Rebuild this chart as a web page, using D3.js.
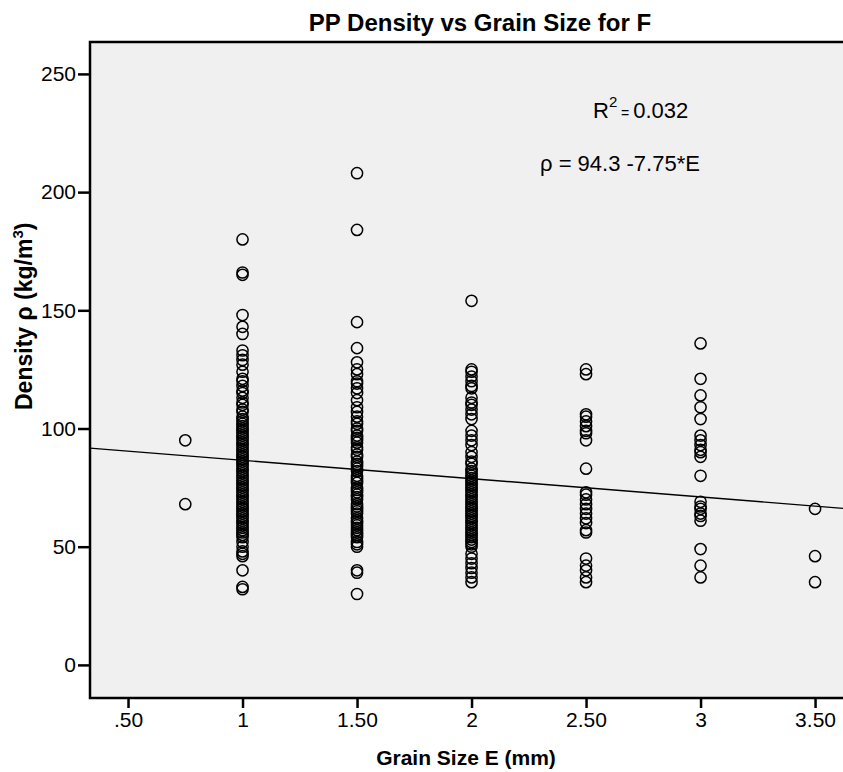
<!DOCTYPE html>
<html>
<head>
<meta charset="utf-8">
<script src="https://cdn.jsdelivr.net/npm/d3@7/dist/d3.min.js"></script>
<style>
  html, body { margin: 0; padding: 0; background: #ffffff; }
  svg { display: block; }
  text { font-family: "Liberation Sans", Arial, sans-serif; fill: #000; }
</style>
</head>
<body>
<svg id="chart" width="843" height="772"></svg>
<script>
// ---- data ----
const xTickValues = [0.5, 1, 1.5, 2, 2.5, 3, 3.5];
const xTickLabels = [".50", "1", "1.50", "2", "2.50", "3", "3.50"];
const yTickValues = [0, 50, 100, 150, 200, 250];

const grain075 = [95, 68];
const grain100 = [180, 166, 165, 148, 143, 140, 133, 131, 129, 127, 124, 121, 120, 118, 116, 115, 113, 111, 110, 108,
  107, 105, 104, 103, 102, 101, 100, 99, 98, 97, 96, 95, 94, 93, 92, 91, 90, 89, 88, 87, 86, 85, 84, 83, 82, 81,
  80, 79, 78, 77, 76, 75, 74, 73, 72, 71, 70, 69, 68, 67, 66, 65, 64, 63, 62, 61, 60, 59, 58, 57, 56, 55, 54, 52,
  50, 48, 47, 46, 40, 33, 32];
const grain150 = [208, 184, 145, 134, 128, 125, 123, 120, 119, 117, 115, 112, 109, 107, 105, 103, 102, 100, 99, 97,
  96, 95, 94, 92, 91, 89, 88, 86, 85, 84, 83, 82, 80, 79, 78, 77, 75, 74, 73, 72, 71, 70, 68, 67, 66, 65, 64, 62,
  61, 60, 59, 58, 57, 56, 55, 54, 52, 51, 50, 40, 39, 30];
const grain200 = [154, 125, 124, 122, 120, 118, 117, 113, 111, 110, 108, 106, 104, 99, 97, 95, 93, 90, 88, 86, 85,
  83, 82, 81, 80, 79, 78, 77, 76, 75, 74, 73, 72, 71, 70, 69, 68, 67, 66, 65, 64, 63, 62, 61, 60, 59, 58, 57, 56,
  55, 54, 53, 52, 51, 50, 47, 45, 43, 41, 39, 37, 35];
const grain250 = [125, 123, 106, 105, 103, 101, 99, 98, 95, 83, 73, 72, 70, 68, 66, 64, 62, 60, 57, 56, 45, 42, 40, 37, 35];
const grain300 = [136, 121, 114, 109, 104, 97, 95, 93, 91, 90, 88, 80, 69, 67, 66, 64, 63, 61, 49, 42, 37];
const grain350 = [66, 46, 35];

const groups = [
  { e: 0.75, values: grain075 },
  { e: 1.0, values: grain100 },
  { e: 1.5, values: grain150 },
  { e: 2.0, values: grain200 },
  { e: 2.5, values: grain250 },
  { e: 3.0, values: grain300 },
  { e: 3.5, values: grain350 }
];

const fitIntercept = 94.3;
const fitSlope = -7.75;
const xDomain = [0.334, 3.622];
const yDomain = [-14, 263.5];

// ---- layout ----
const svg = d3.select("#chart");
const pLeft = 90, pTop = 42, pRight = 843, pBottom = 698;

const x = d3.scaleLinear().domain(xDomain).range([pLeft, pRight]);
const y = d3.scaleLinear().domain(yDomain).range([pBottom, pTop]);

// plot background
svg.append("rect")
  .attr("x", pLeft).attr("y", pTop)
  .attr("width", pRight - pLeft).attr("height", pBottom - pTop)
  .attr("fill", "#f0f0f0");

// points
const pts = [];
groups.forEach(g => g.values.forEach(v => pts.push({ e: g.e, v })));
svg.append("g").selectAll("circle").data(pts).enter().append("circle")
  .attr("cx", d => x(d.e))
  .attr("cy", d => y(d.v))
  .attr("r", 5.6)
  .attr("fill", "none")
  .attr("stroke", "#000")
  .attr("stroke-width", 1.5);

// regression line
svg.append("line")
  .attr("x1", x(xDomain[0])).attr("y1", y(fitIntercept + fitSlope * xDomain[0]))
  .attr("x2", x(xDomain[1])).attr("y2", y(fitIntercept + fitSlope * xDomain[1]))
  .attr("stroke", "#000").attr("stroke-width", 1.4);

// frame
svg.append("path")
  .attr("d", `M${pRight},${pTop}H${pLeft}V${pBottom}H${pRight}`)
  .attr("fill", "none").attr("stroke", "#000").attr("stroke-width", 2.5);

// axes
const yAxis = d3.axisLeft(y).tickValues(yTickValues).tickSize(12).tickPadding(2).tickFormat(d3.format("d"));
const gy = svg.append("g").attr("transform", `translate(${pLeft},0)`).call(yAxis);
gy.select(".domain").remove();
gy.selectAll(".tick line").attr("stroke", "#000").attr("stroke-width", 2.5);
gy.selectAll(".tick text").attr("font-size", 21).attr("font-family", "Liberation Sans, Arial, sans-serif");

const xAxis = d3.axisBottom(x).tickValues(xTickValues).tickSize(10).tickPadding(4)
  .tickFormat((d, i) => xTickLabels[i]);
const gx = svg.append("g").attr("transform", `translate(0,${pBottom})`).call(xAxis);
gx.select(".domain").remove();
gx.selectAll(".tick line").attr("stroke", "#000").attr("stroke-width", 2.5);
gx.selectAll(".tick text").attr("font-size", 21).attr("font-family", "Liberation Sans, Arial, sans-serif");

// title
svg.append("text")
  .attr("x", 480).attr("y", 31)
  .attr("text-anchor", "middle")
  .attr("font-size", 24).attr("font-weight", "bold")
  .text("PP Density vs Grain Size for F");

// axis titles
svg.append("text")
  .attr("x", 466).attr("y", 765)
  .attr("text-anchor", "middle")
  .attr("font-size", 21).attr("font-weight", "bold")
  .text("Grain Size E (mm)");

const yt = svg.append("text")
  .attr("transform", "translate(32,410) rotate(-90)")
  .attr("text-anchor", "start")
  .attr("font-size", 23).attr("font-weight", "bold");
yt.append("tspan").text("Density  ρ (kg/m");
yt.append("tspan").attr("font-size", 15).attr("dy", -9).text("3");
yt.append("tspan").attr("dy", 9).text(")");

// annotations
const r2 = svg.append("text").attr("x", 593).attr("y", 118).attr("font-size", 22);
r2.append("tspan").text("R");
r2.append("tspan").attr("font-size", 15).attr("dy", -11).text("2");
r2.append("tspan").attr("font-size", 14).attr("dy", 11).text(" = ");
r2.append("tspan").text("0.032");

svg.append("text").attr("x", 540).attr("y", 171).attr("font-size", 22)
  .text("ρ  = 94.3 -7.75*E");
</script>
</body>
</html>
